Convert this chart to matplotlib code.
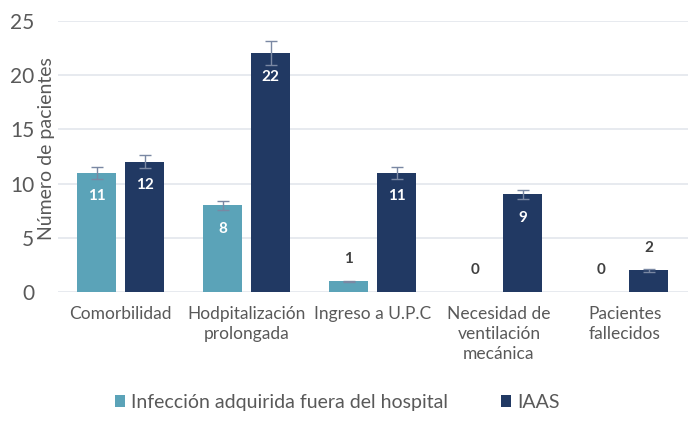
import numpy as np
import matplotlib.pyplot as plt

categories = ["Comorbilidad", "Hodpitalización\nprolongada", "Ingreso a U.P.C",
              "Necesidad de\nventilación\nmecánica", "Pacientes\nfallecidos"]
fuera = [11, 8, 1, 0, 0]
iaas = [12, 22, 11, 9, 2]
series_names = ["Infección adquirida fuera del hospital", "IAAS"]
err_pct = 0.05  # error bars: 5 % of value

teal = "#5BA3B8"
navy = "#213963"
text_col = "#595959"

plt.rcParams['font.family'] = ['Lato', 'DejaVu Sans']

fig = plt.figure(figsize=(6.88, 4.24), dpi=100)
ax = fig.add_axes([0.084, 0.311, 0.916, 0.64])

x = np.arange(len(categories))
w = 0.31
off = 0.19

for vals, pos, col, name in [(fuera, x - off, teal, series_names[0]),
                             (iaas, x + off, navy, series_names[1])]:
    vals = np.array(vals, dtype=float)
    ax.bar(pos, vals, w, color=col, label=name, linewidth=0, zorder=2)
    nz = vals > 0
    ax.errorbar(pos[nz], vals[nz], yerr=vals[nz] * err_pct, fmt='none', ecolor="#7A88A3",
                elinewidth=1, capsize=4.5, capthick=1, zorder=3)
    for p, v in zip(pos, vals):
        if v >= 5:
            ax.annotate(f"{int(v)}", (p, v), xytext=(0, -17), textcoords='offset points',
                        ha='center', va='center', color='white', fontsize=11,
                        fontweight='bold')
        else:
            ax.annotate(f"{int(v)}", (p, v), xytext=(0, 16), textcoords='offset points',
                        ha='center', va='center', color='#404040', fontsize=11,
                        fontweight='bold')

ax.set_xlim(-0.5, len(categories) - 0.5)
ax.set_ylim(0, 25)
ax.set_yticks(range(0, 26, 5))
ax.yaxis.grid(True, color="#E3E6EC", linewidth=1.2, zorder=0)
ax.set_axisbelow(True)
for s in ax.spines.values():
    s.set_visible(False)
ax.tick_params(axis='both', length=0)
ax.tick_params(axis='y', labelsize=15, labelcolor=text_col, pad=17)
ax.set_xticks(x)
ax.set_xticklabels(categories, fontsize=12.5, color=text_col, linespacing=1.3)
ax.tick_params(axis='x', pad=10)
ax.set_ylabel("Número de pacientes", fontsize=14, color=text_col)
ax.yaxis.set_label_coords(-0.004, 0.53)

fig.legend(loc='lower center', bbox_to_anchor=(0.49, -0.01), ncol=2, frameon=False,
           fontsize=14, labelcolor=text_col, handlelength=0.55, handleheight=0.55,
           handletextpad=0.3, columnspacing=2.7)

fig.savefig("out.png", dpi=100)
